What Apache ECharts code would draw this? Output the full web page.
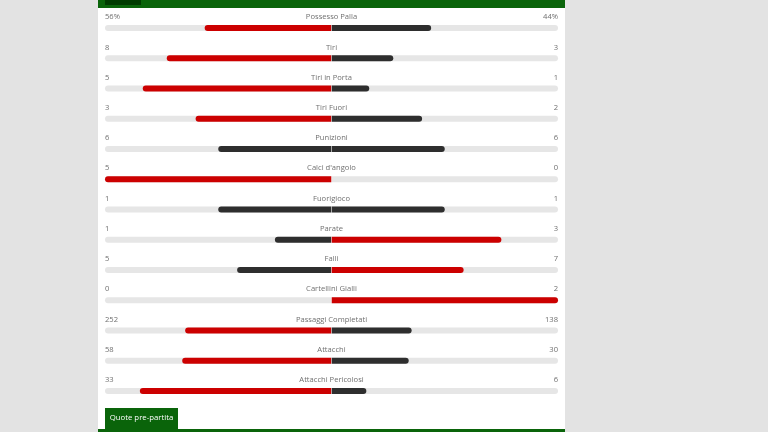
<!DOCTYPE html>
<html>
<head>
<meta charset="utf-8">
<script src="https://cdn.jsdelivr.net/npm/echarts@6/dist/echarts.min.js"></script>
<style>
html,body{margin:0;padding:0;background:#e3e3e3;}
#chart{width:768px;height:432px;}
</style>
</head>
<body>
<div id="chart"></div>
<script>
const categories = ['Possesso Palla','Tiri','Tiri in Porta','Tiri Fuori','Punizioni',"Calci d'angolo",'Fuorigioco','Parate','Falli','Cartellini Gialli','Passaggi Completati','Attacchi','Attacchi Pericolosi'];
const homeValues = [56, 8, 5, 3, 6, 5, 1, 1, 5, 0, 252, 58, 33];
const awayValues = [44, 3, 1, 2, 6, 0, 1, 3, 7, 2, 138, 30, 6];
const valueSuffix = ['%', '', '', '', '', '', '', '', '', '', '', '', ''];
const tabTitle = 'Quote pre-partita';

const RED = '#cc0000', DARK = '#2e2e2e';
const font = '"Open Sans", "Noto Sans", sans-serif';

const chart = echarts.init(document.getElementById('chart'));

const leftData = categories.map((c, i) => {
  const tot = homeValues[i] + awayValues[i];
  const share = tot ? homeValues[i] / tot : 0;
  return { value: -share, itemStyle: { color: homeValues[i] > awayValues[i] ? RED : DARK, borderRadius: [3, 0, 0, 3] } };
});
const rightData = categories.map((c, i) => {
  const tot = homeValues[i] + awayValues[i];
  const share = tot ? awayValues[i] / tot : 0;
  return { value: share, itemStyle: { color: awayValues[i] > homeValues[i] ? RED : DARK, borderRadius: [0, 3, 3, 0] } };
});

const textStyle = { color: '#4a4a4a', fontSize: 7.6, fontFamily: font };

function labelSeries(x, align, fmt) {
  return {
    type: 'scatter',
    symbolSize: 0,
    silent: true,
    data: categories.map((c, i) => [x, i]),
    label: Object.assign({
      show: true,
      position: 'inside',
      align: align,
      verticalAlign: 'middle',
      offset: [0, -11],
      formatter: p => fmt(p.dataIndex)
    }, textStyle),
    z: 5
  };
}

chart.setOption({
  backgroundColor: '#e3e3e3',
  animation: false,
  graphic: [
    { type: 'rect', shape: { x: 98, y: 0, width: 467, height: 432 }, style: { fill: '#ffffff' }, z: -10 },
    { type: 'rect', shape: { x: 98, y: 0, width: 467, height: 8 }, style: { fill: '#0a640a' }, z: -9 },
    { type: 'rect', shape: { x: 105, y: 0, width: 36, height: 5 }, style: { fill: '#003c00' }, z: -8 },
    { type: 'rect', shape: { x: 98, y: 429, width: 467, height: 3 }, style: { fill: '#0a640a' }, z: -9 },
    { type: 'rect', shape: { x: 105, y: 408, width: 73, height: 22 }, style: { fill: '#0a640a' }, z: -8 },
    { type: 'text', x: 141.5, y: 418, style: { text: tabTitle, fill: '#ffffff', font: '7.8px ' + font, textAlign: 'center', textVerticalAlign: 'middle' }, z: -7 }
  ],
  grid: { left: 105, right: 210, top: 13, height: 393, containLabel: false },
  xAxis: { type: 'value', min: -1, max: 1, show: false },
  yAxis: { type: 'category', data: categories, inverse: true, show: false },
  series: [
    {
      type: 'bar', data: leftData, barWidth: 6, barGap: '-100%',
      showBackground: true, backgroundStyle: { color: '#e6e6e6', borderRadius: 3 },
      silent: true
    },
    {
      type: 'bar', data: rightData, barWidth: 6, barGap: '-100%', silent: true,
      markLine: { silent: true, symbol: 'none', label: { show: false },
        lineStyle: { color: 'rgba(255,255,255,0.45)', width: 1, type: 'solid' },
        data: [{ xAxis: 0 }] }
    },
    labelSeries(-1, 'left', i => homeValues[i] + valueSuffix[i]),
    labelSeries(0, 'center', i => categories[i]),
    labelSeries(1, 'right', i => awayValues[i] + valueSuffix[i])
  ]
});
</script>
</body>
</html>
